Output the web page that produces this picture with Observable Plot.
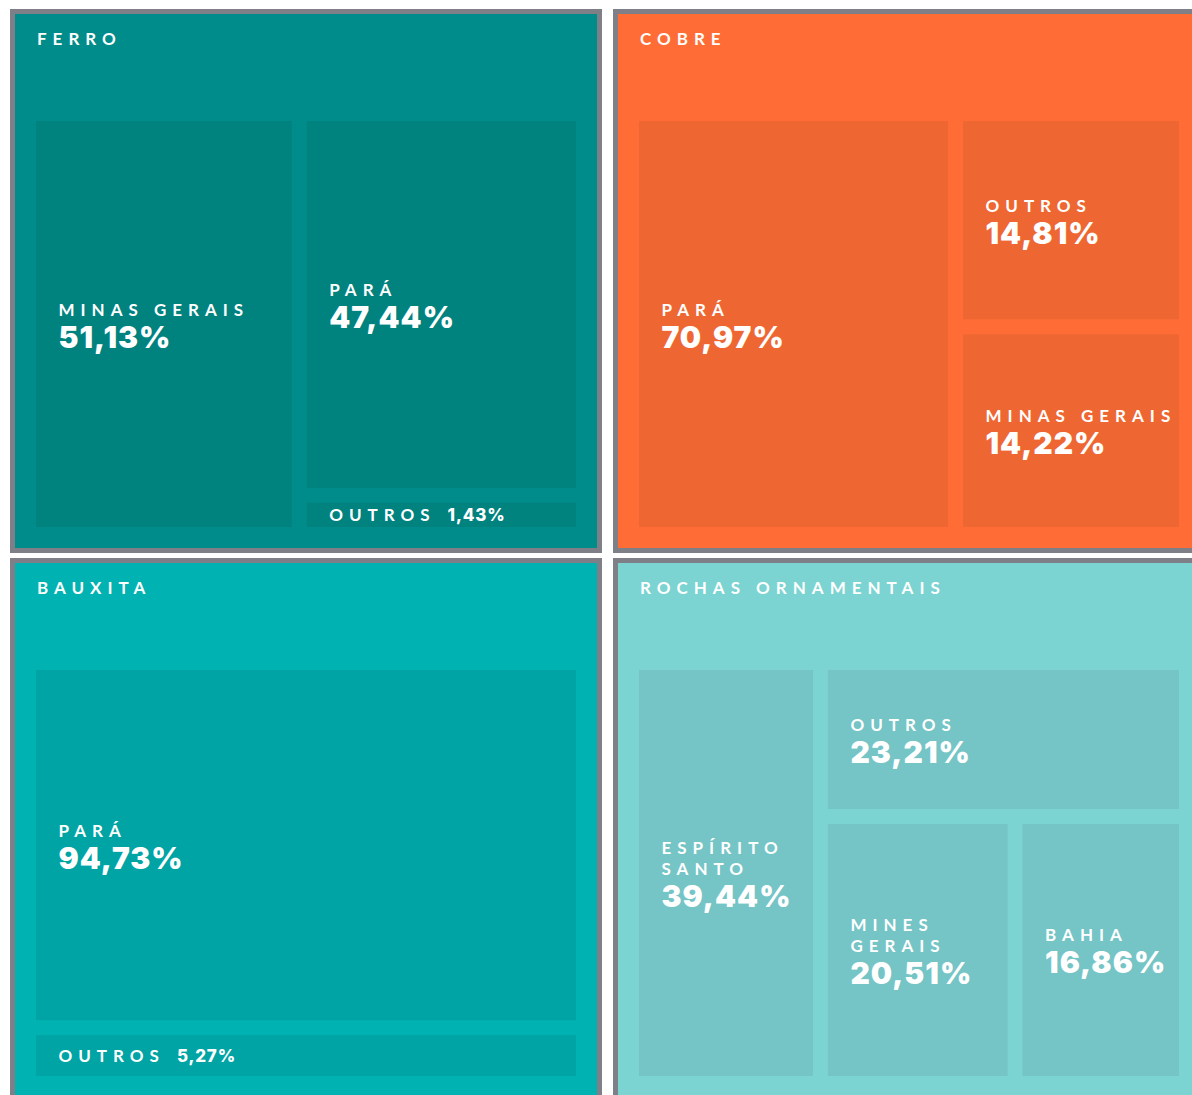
<!DOCTYPE html>
<html>
<head>
<meta charset="utf-8">
<script src="https://cdn.jsdelivr.net/npm/d3@7"></script>
<script src="https://cdn.jsdelivr.net/npm/@observablehq/plot@0.6"></script>
<style>
  html, body { margin: 0; padding: 0; background: #ffffff; overflow: hidden; width: 1192px; height: 1095px; }
  #grid { position: absolute; left: 10px; top: 9px; display: grid;
          grid-template-columns: 592px 592px; grid-template-rows: 544px 544px;
          column-gap: 11px; row-gap: 5px; }
  .panel { position: relative; box-sizing: border-box; width: 592px; height: 544px;
           border: 5px solid #7f8087; overflow: hidden; }
  .panel svg { position: absolute; left: 0; top: 0; display: block; }
  .title { position: absolute; left: 22px; top: 16px; color: #ffffff;
           font: 700 17px Lato, "Open Sans", sans-serif; line-height: 17px;
           letter-spacing: 6px; white-space: nowrap; z-index: 2; }
  g[aria-description="state name"] text, g[aria-description="inline name"] text { letter-spacing: 6px; }
  g[aria-description="share"] text { letter-spacing: 1px; }
  g[aria-description="inline share"] text { letter-spacing: 0.8px; }
</style>
</head>
<body>
<div id="grid"></div>
<script>
// ---- data ----
const panelTitles = ["FERRO", "COBRE", "BAUXITA", "ROCHAS ORNAMENTAIS"];

const ferroStates = ["MINAS GERAIS", "PARÁ", "OUTROS"];
const ferroShares = [51.13, 47.44, 1.43];

const cobreStates = ["PARÁ", "OUTROS", "MINAS GERAIS"];
const cobreShares = [70.97, 14.81, 14.22];

const bauxitaStates = ["PARÁ", "OUTROS"];
const bauxitaShares = [94.73, 5.27];

const rochasStates = ["ESPÍRITO SANTO", "OUTROS", "MINES GERAIS", "BAHIA"];
const rochasShares = [39.44, 23.21, 20.51, 16.86];

// ---- styling / layout options ----
const panelColors = ["#008c8a", "#ff6c35", "#00b2b1", "#7bd3d2"];
const cellColors  = ["#00827f", "#ee6733", "#00a4a4", "#75c4c6"];
const panelTiling = ["firstRest", "firstRest", "slice", "firstRest"];
const areaExponent = 0.65;   // cell area ~ share^0.65 so that small shares stay legible

const panelW = 582, panelH = 534;
const mLeft = 21, mTop = 107, mRight = 21, mBottom = 21;
const areaW = panelW - mLeft - mRight, areaH = panelH - mTop - mBottom;
const pad = 15;

const nameFamily = "Lato, 'Open Sans', sans-serif";
const pctFamily = "Inter, Lato, sans-serif";
const nameFont = "700 17px Lato";
const nameSpacing = 6;
const ctx = document.createElement("canvas").getContext("2d");
function nameWidth(s) { ctx.font = nameFont; return ctx.measureText(s).width + nameSpacing * s.length; }
const fmt = v => v.toFixed(2).replace(".", ",") + "%";

// first item takes a strip along the longer side, the rest is laid out recursively
function tileFirstRest(parent, x0, y0, x1, y1) {
  const nodes = parent.children;
  let rest = parent.value;
  nodes.forEach((n, i) => {
    if (i === nodes.length - 1) { n.x0 = x0; n.y0 = y0; n.x1 = x1; n.y1 = y1; return; }
    const f = rest ? n.value / rest : 0;
    if (x1 - x0 > y1 - y0) {
      const xk = x0 + (x1 - x0) * f;
      n.x0 = x0; n.x1 = xk; n.y0 = y0; n.y1 = y1; x0 = xk;
    } else {
      const yk = y0 + (y1 - y0) * f;
      n.x0 = x0; n.x1 = x1; n.y0 = y0; n.y1 = yk; y0 = yk;
    }
    rest -= n.value;
  });
}

const panels = [
  {states: ferroStates, shares: ferroShares},
  {states: cobreStates, shares: cobreShares},
  {states: bauxitaStates, shares: bauxitaShares},
  {states: rochasStates, shares: rochasShares}
].map((p, i) => ({...p, title: panelTitles[i], bg: panelColors[i], cell: cellColors[i], tiling: panelTiling[i]}));

const grid = document.getElementById("grid");

panels.forEach(p => {
  const rows = p.states.map((s, i) => ({state: s, share: p.shares[i]}));
  const root = d3.hierarchy({children: rows}).sum(d => d.children ? 0 : Math.pow(d.share, areaExponent));
  d3.treemap()
    .tile(p.tiling === "slice" ? d3.treemapSlice : tileFirstRest)
    .size([areaW, areaH])
    .paddingInner(pad)
    .round(false)(root);

  const cells = root.leaves().map(l => {
    const w = l.x1 - l.x0, h = l.y1 - l.y0;
    const inline = h < 60;
    let lines = [l.data.state];
    if (!inline && nameWidth(l.data.state) + 22 > w) lines = l.data.state.split(" ");
    const cy = (l.y0 + l.y1) / 2;
    return {
      x0: l.x0, x1: l.x1, y0: l.y0, y1: l.y1,
      name: lines.join("\n"), pct: fmt(l.data.share), inline,
      ly: inline ? cy : cy + (lines.length - 1) * 10.5,
      px: l.x0 + nameWidth(l.data.state) + 12
    };
  });
  const blocks = cells.filter(d => !d.inline);
  const inl = cells.filter(d => d.inline);

  const div = document.createElement("div");
  div.className = "panel";
  div.style.background = p.bg;
  const t = document.createElement("div");
  t.className = "title";
  t.textContent = p.title;
  div.appendChild(t);

  const chart = Plot.plot({
    width: panelW, height: panelH,
    marginLeft: mLeft, marginRight: mRight, marginTop: mTop, marginBottom: mBottom,
    x: {domain: [0, areaW], axis: null},
    y: {domain: [0, areaH], axis: null, reverse: true},
    style: {background: "transparent", overflow: "visible"},
    marks: [
      Plot.rect(cells, {x1: "x0", x2: "x1", y1: "y0", y2: "y1", fill: p.cell}),
      Plot.text(blocks, {x: "x0", y: "ly", text: "name", dx: 22, dy: -9, textAnchor: "start", lineAnchor: "bottom",
        lineHeight: 21 / 17, fill: "white", fontFamily: nameFamily, fontSize: 17, fontWeight: 700, ariaDescription: "state name"}),
      Plot.text(blocks, {x: "x0", y: "ly", text: "pct", dx: 22, dy: 23, textAnchor: "start", lineAnchor: "bottom",
        fill: "white", fontFamily: pctFamily, fontSize: 30, fontWeight: 900, ariaDescription: "share"}),
      Plot.text(inl, {x: "x0", y: "ly", text: "name", dx: 22, textAnchor: "start", lineAnchor: "middle",
        fill: "white", fontFamily: nameFamily, fontSize: 17, fontWeight: 700, ariaDescription: "inline name"}),
      Plot.text(inl, {x: "px", y: "ly", text: "pct", dx: 22, textAnchor: "start", lineAnchor: "middle",
        fill: "white", fontFamily: pctFamily, fontSize: 17, fontWeight: 800, ariaDescription: "inline share"})
    ]
  });
  div.appendChild(chart);
  grid.appendChild(div);
});
</script>
</body>
</html>
